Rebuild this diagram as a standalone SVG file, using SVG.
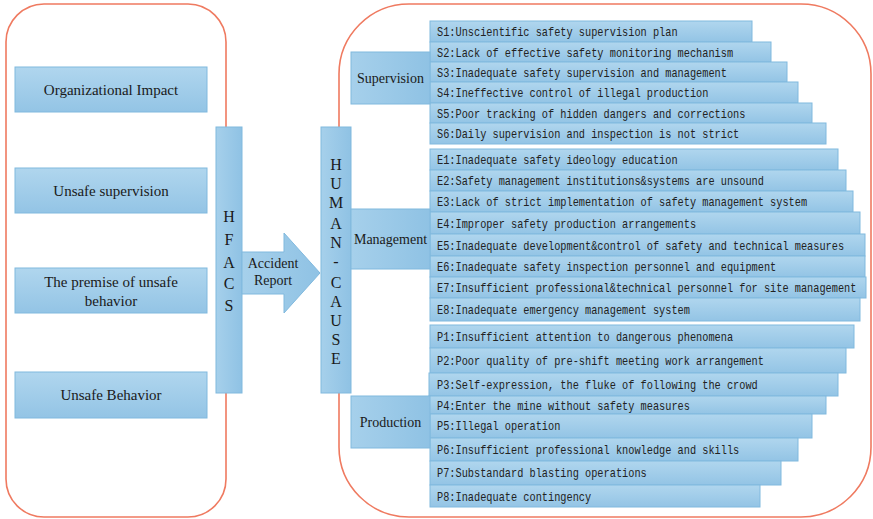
<svg xmlns="http://www.w3.org/2000/svg" width="873" height="519" viewBox="0 0 873 519">
<defs>
<linearGradient id="blue" x1="0" y1="0" x2="0" y2="1">
<stop offset="0" stop-color="#b0d6ee"/>
<stop offset="1" stop-color="#93c4e5"/>
</linearGradient>
<linearGradient id="blueH" x1="0" y1="0" x2="1" y2="0">
<stop offset="0" stop-color="#a6d0eb"/>
<stop offset="1" stop-color="#8fc2e4"/>
</linearGradient>
</defs>
<style>
.panel{fill:#ffffff;stroke:#ef7a60;stroke-width:1.6}
.box{fill:url(#blue);stroke:#80b9de;stroke-width:1}
.bar{fill:url(#blueH);stroke:#80b9de;stroke-width:1}
.serif{font-family:"Liberation Serif","Times New Roman",serif;fill:#1a1a1a;text-anchor:middle}
.lbl{font-size:15px}
.cat{font-size:14px}
.vert{font-size:16px}
.mono{font-family:"Liberation Mono","Courier New",monospace;font-size:12.5px;fill:#222}
</style>
<rect class="panel" x="6" y="4" width="220" height="513" rx="38"/>
<rect class="panel" x="339" y="4" width="532" height="513" rx="70"/>

<g id="left-organizational"><rect class="box" x="15" y="67" width="192" height="45"/><text class="serif lbl" x="111" y="94.5">Organizational Impact</text></g>
<g id="left-supervision"><rect class="box" x="15" y="168" width="192" height="45"/><text class="serif lbl" x="111" y="195.5">Unsafe supervision</text></g>
<g id="left-premise"><rect class="box" x="15" y="268" width="192" height="45"/><text class="serif lbl" x="111" y="286.5">The premise of unsafe</text><text class="serif lbl" x="111" y="305.5">behavior</text></g>
<g id="left-behavior"><rect class="box" x="15" y="372" width="192" height="46"/><text class="serif lbl" x="111" y="400">Unsafe Behavior</text></g>

<g id="hfacs"><rect class="bar" x="216" y="127" width="26" height="266"/>
<text class="serif vert" x="229" y="222">H</text><text class="serif vert" x="229" y="245">F</text><text class="serif vert" x="229" y="268">A</text><text class="serif vert" x="229" y="289">C</text><text class="serif vert" x="229" y="311">S</text></g>

<g id="connectors"><path class="bar" d="M242,252 L284,252 L284,233 L320,273 L284,313 L284,294 L242,294 Z"/>
<text class="serif cat" x="273" y="268">Accident</text><text class="serif cat" x="273" y="285">Report</text></g>

<g id="human-cause"><rect class="bar" x="321" y="127" width="30" height="266"/>
<g class="serif vert">
<text x="336" y="169.5">H</text><text x="336" y="188.5">U</text><text x="336" y="207.5">M</text><text x="336" y="228.5">A</text><text x="336" y="247.5">N</text><text x="336" y="267">-</text><text x="336" y="287.5">C</text><text x="336" y="306.5">A</text><text x="336" y="325.5">U</text><text x="336" y="344.5">S</text><text x="336" y="363.5">E</text>
</g></g>

<g id="supervision-items">
<g id="S1"><rect class="box" x="430" y="21" width="322" height="21"/><text class="mono" transform="translate(437 36) scale(0.823 1)">S1:Unscientific safety supervision plan</text></g>
<g id="S2"><rect class="box" x="430" y="42" width="341" height="20"/><text class="mono" transform="translate(437 56.5) scale(0.823 1)">S2:Lack of effective safety monitoring mechanism</text></g>
<g id="S3"><rect class="box" x="430" y="62" width="357" height="20"/><text class="mono" transform="translate(437 76.5) scale(0.823 1)">S3:Inadequate safety supervision and management</text></g>
<g id="S4"><rect class="box" x="430" y="82" width="368" height="21"/><text class="mono" transform="translate(437 97) scale(0.823 1)">S4:Ineffective control of illegal production</text></g>
<g id="S5"><rect class="box" x="430" y="103" width="382" height="20"/><text class="mono" transform="translate(437 117.5) scale(0.823 1)">S5:Poor tracking of hidden dangers and corrections</text></g>
<g id="S6"><rect class="box" x="430" y="123" width="396" height="21"/><text class="mono" transform="translate(437 138) scale(0.823 1)">S6:Daily supervision and inspection is not strict</text></g>
</g>
<g id="supervision"><rect class="bar" x="351" y="52" width="79" height="52"/><text class="serif cat" x="390.5" y="82.5">Supervision</text></g>

<g id="management-items">
<g id="E1"><rect class="box" x="430" y="149" width="408" height="21"/><text class="mono" transform="translate(437 164) scale(0.823 1)">E1:Inadequate safety ideology education</text></g>
<g id="E2"><rect class="box" x="430" y="170" width="416" height="21"/><text class="mono" transform="translate(437 185) scale(0.823 1)">E2:Safety management institutions&amp;systems are unsound</text></g>
<g id="E3"><rect class="box" x="430" y="191" width="423" height="21"/><text class="mono" transform="translate(437 206) scale(0.823 1)">E3:Lack of strict implementation of safety management system</text></g>
<g id="E4"><rect class="box" x="430" y="212" width="430" height="22"/><text class="mono" transform="translate(437 227.5) scale(0.823 1)">E4:Improper safety production arrangements</text></g>
<g id="E5"><rect class="box" x="430" y="234" width="435" height="22"/><text class="mono" transform="translate(437 249.5) scale(0.823 1)">E5:Inadequate development&amp;control of safety and technical measures</text></g>
<g id="E6"><rect class="box" x="430" y="256" width="435" height="21"/><text class="mono" transform="translate(437 271) scale(0.823 1)">E6:Inadequate safety inspection personnel and equipment</text></g>
<g id="E7"><rect class="box" x="430" y="277" width="436" height="21"/><text class="mono" transform="translate(437 292) scale(0.823 1)">E7:Insufficient professional&amp;technical personnel for site management</text></g>
<g id="E8"><rect class="box" x="430" y="298" width="430" height="23"/><text class="mono" transform="translate(437 314) scale(0.823 1)">E8:Inadequate emergency management system</text></g>
</g>
<g id="management"><rect class="bar" x="351" y="209" width="79" height="60"/><text class="serif cat" x="390.5" y="244">Management</text></g>

<g id="production-items">
<g id="P1"><rect class="box" x="430" y="325" width="424" height="23"/><text class="mono" transform="translate(437 341) scale(0.823 1)">P1:Insufficient attention to dangerous phenomena</text></g>
<g id="P2"><rect class="box" x="430" y="348" width="416" height="25"/><text class="mono" transform="translate(437 365) scale(0.823 1)">P2:Poor quality of pre-shift meeting work arrangement</text></g>
<g id="P3"><rect class="box" x="429" y="373" width="409" height="23"/><text class="mono" transform="translate(437 389) scale(0.823 1)">P3:Self-expression, the fluke of following the crowd</text></g>
<g id="P4"><rect class="box" x="429" y="396" width="397" height="18"/><text class="mono" transform="translate(437 409.5) scale(0.823 1)">P4:Enter the mine without safety measures</text></g>
<g id="P5"><rect class="box" x="430" y="414" width="382" height="24"/><text class="mono" transform="translate(437 430) scale(0.823 1)">P5:Illegal operation</text></g>
<g id="P6"><rect class="box" x="430" y="438" width="368" height="23"/><text class="mono" transform="translate(437 454) scale(0.823 1)">P6:Insufficient professional knowledge and skills</text></g>
<g id="P7"><rect class="box" x="430" y="461" width="351" height="24"/><text class="mono" transform="translate(437 477) scale(0.823 1)">P7:Substandard blasting operations</text></g>
<g id="P8"><rect class="box" x="430" y="485" width="330" height="22"/><text class="mono" transform="translate(437 500.5) scale(0.823 1)">P8:Inadequate contingency</text></g>
</g>
<g id="production"><rect class="bar" x="351" y="396" width="79" height="52"/><text class="serif cat" x="390.5" y="426.5">Production</text></g>
</svg>
